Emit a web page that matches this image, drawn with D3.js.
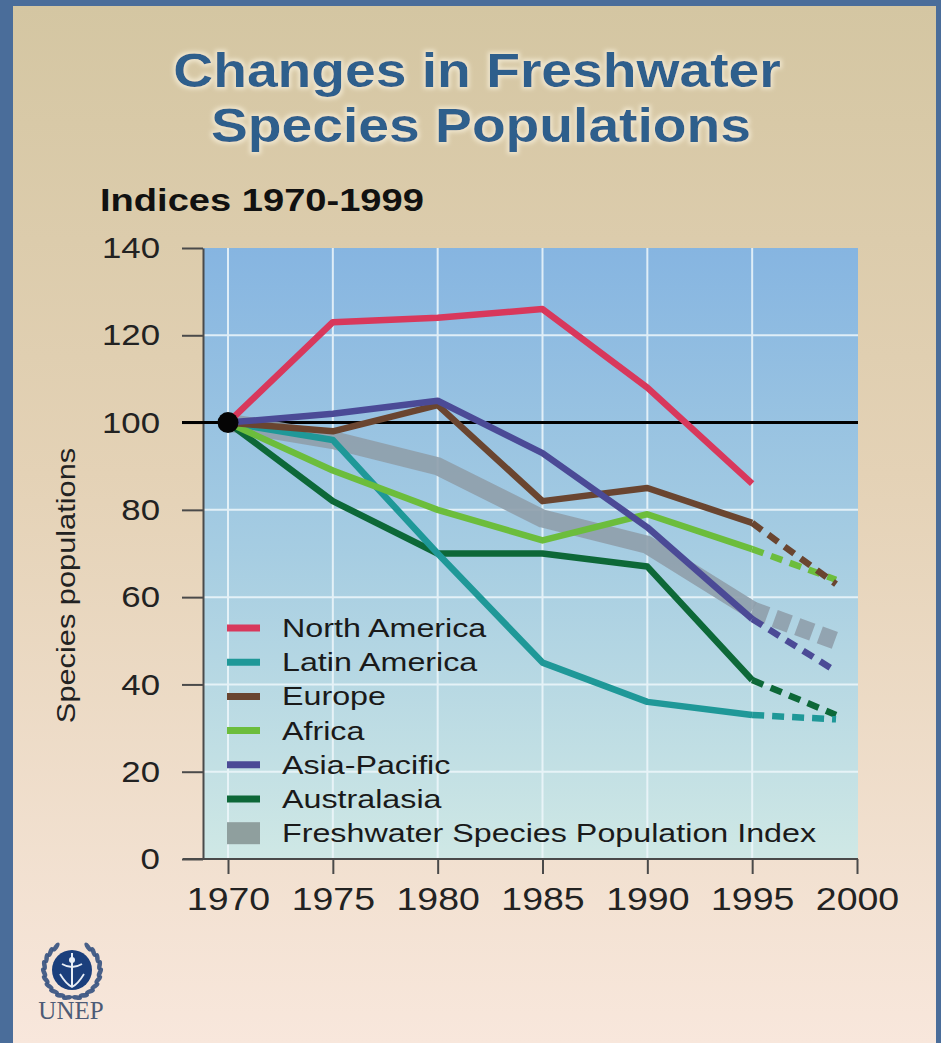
<!DOCTYPE html>
<html>
<head>
<meta charset="utf-8">
<script src="https://cdn.jsdelivr.net/npm/d3@7"></script>
<style>
  html, body { margin: 0; padding: 0; background: #4a6d9a; }
  svg { display: block; font-family: "Liberation Sans", Arial, sans-serif; }
</style>
</head>
<body>
<svg id="chart" width="941" height="1043"></svg>
<script>
// ---- data ----
const years = [1970, 1975, 1980, 1985, 1990, 1995];
const projectionYear = 1999;

const seriesNames = ["North America", "Latin America", "Europe", "Africa", "Asia-Pacific", "Australasia"];
const seriesColors = ["#d8385c", "#1f9898", "#6a4530", "#6cbd3c", "#4b4a96", "#0d6838"];

const northAmerica = [100, 123, 124, 126, 108, 86];
const latinAmerica = [100, 96, 70, 45, 36, 33];
const europe       = [100, 98, 104, 82, 85, 77];
const africa       = [100, 89, 80, 73, 79, 71];
const asiaPacific  = [100, 102, 105, 93, 76, 55];
const australasia  = [100, 82, 70, 70, 67, 41];

// projected 1999 values (null = no projection)
const projections = [null, 32, 63, 64, 43, 33];

const indexName = "Freshwater Species Population Index";
const indexValues = [100, 96, 90, 78, 72, 57];
const indexProjection = 50;

const yTicks = [0, 20, 40, 60, 80, 100, 120, 140];
const xTicks = [1970, 1975, 1980, 1985, 1990, 1995, 2000];

const titleLines = ["Changes in Freshwater", "Species Populations"];
const subtitle = "Indices 1970-1999";
const yTitle = "Species populations";

const seriesValues = [northAmerica, latinAmerica, europe, africa, asiaPacific, australasia];

// ---- setup ----
const svg = d3.select("#chart");
const W = 941, H = 1043;

const x = d3.scaleLinear().domain([1970, 2000]).range([228, 857]);
const y = d3.scaleLinear().domain([0, 140]).range([859, 248]);
const plotLeft = x(1970) - 25, plotRight = x(2000) + 1;

// stretch helper: widen text horizontally by factor sx
function stretch(sel, sx) {
  sel.each(function () {
    const w = this.getComputedTextLength();
    this.setAttribute("textLength", (w * sx).toFixed(1));
    this.setAttribute("lengthAdjust", "spacingAndGlyphs");
  });
}

const defs = svg.append("defs");
const panelGrad = defs.append("linearGradient").attr("id", "panelGrad")
  .attr("x1", 0).attr("y1", 0).attr("x2", 0).attr("y2", 1);
panelGrad.append("stop").attr("offset", "0").attr("stop-color", "#d4c6a2");
panelGrad.append("stop").attr("offset", "0.45").attr("stop-color", "#e4d2b6");
panelGrad.append("stop").attr("offset", "1").attr("stop-color", "#f8e7dc");

const plotGrad = defs.append("linearGradient").attr("id", "plotGrad")
  .attr("x1", 0).attr("y1", 0).attr("x2", 0).attr("y2", 1);
plotGrad.append("stop").attr("offset", "0").attr("stop-color", "#86b5e1");
plotGrad.append("stop").attr("offset", "0.5").attr("stop-color", "#a6cde2");
plotGrad.append("stop").attr("offset", "1").attr("stop-color", "#cfe8e5");

const glow = defs.append("filter").attr("id", "glow")
  .attr("x", "-10%").attr("y", "-30%").attr("width", "120%").attr("height", "160%");
glow.append("feMorphology").attr("in", "SourceAlpha").attr("operator", "dilate").attr("radius", 1.5).attr("result", "d");
glow.append("feGaussianBlur").attr("in", "d").attr("stdDeviation", 2).attr("result", "b");
glow.append("feFlood").attr("flood-color", "#f4ecd6").attr("flood-opacity", 0.85);
glow.append("feComposite").attr("in2", "b").attr("operator", "in").attr("result", "g");
const gm = glow.append("feMerge");
gm.append("feMergeNode").attr("in", "g");
gm.append("feMergeNode").attr("in", "SourceGraphic");

// ---- frame & panel ----
svg.append("rect").attr("width", W).attr("height", H).attr("fill", "#4a6d9a");
svg.append("rect").attr("x", 13).attr("y", 6).attr("width", W - 18).attr("height", H - 6)
  .attr("fill", "url(#panelGrad)");

// ---- titles ----
const title = svg.append("g").attr("filter", "url(#glow)");
title.selectAll("text").data(titleLines).join("text")
  .attr("x", (d, i) => i === 0 ? 477 : 481)
  .attr("y", (d, i) => i === 0 ? 87 : 142)
  .attr("text-anchor", "middle")
  .attr("font-size", 48).attr("font-weight", "bold")
  .attr("fill", "#2f5e8c")
  .text(d => d)
  .call(stretch, 1.15);

svg.append("text").attr("x", 100).attr("y", 211)
  .attr("font-size", 32).attr("font-weight", "bold").attr("fill", "#111")
  .text(subtitle).call(stretch, 1.19);

// ---- plot background & grid ----
svg.append("rect").attr("x", plotLeft).attr("y", y(140))
  .attr("width", plotRight - plotLeft).attr("height", y(0) - y(140))
  .attr("fill", "url(#plotGrad)");

const grid = svg.append("g").attr("stroke", "#eef7fb").attr("stroke-width", 2).attr("opacity", 0.85);
grid.selectAll("line.v").data(xTicks.slice(0, -1)).join("line")
  .attr("x1", d => x(d)).attr("x2", d => x(d)).attr("y1", y(140)).attr("y2", y(0));
grid.selectAll("line.h").data(yTicks.filter(v => v > 0 && v < 140)).join("line")
  .attr("x1", plotLeft).attr("x2", plotRight).attr("y1", d => y(d)).attr("y2", d => y(d));

// ---- axes ----
const axisColor = "#4a4a4a";
const yAxis = svg.append("g").attr("transform", `translate(${plotLeft},0)`)
  .call(d3.axisLeft(y).tickValues(yTicks).tickSize(21).tickSizeOuter(0).tickPadding(22));
yAxis.select(".domain").attr("stroke", axisColor).attr("stroke-width", 2);
yAxis.selectAll(".tick line").attr("stroke", axisColor).attr("stroke-width", 2);
yAxis.selectAll(".tick text").attr("font-size", 30).attr("fill", "#222")
  .attr("font-family", "Liberation Sans, Arial, sans-serif").call(stretch, 1.16);

const xAxis = svg.append("g").attr("transform", `translate(0,${y(0)})`)
  .call(d3.axisBottom(x).tickValues(xTicks).tickFormat(d3.format("d")).tickSize(15).tickPadding(13));
xAxis.select(".domain").remove();
xAxis.selectAll(".tick line").attr("stroke", axisColor).attr("stroke-width", 2);
xAxis.selectAll(".tick text").attr("font-size", 32).attr("fill", "#222")
  .attr("font-family", "Liberation Sans, Arial, sans-serif").call(stretch, 1.17);
svg.append("line").attr("x1", plotLeft - 20).attr("x2", plotRight)
  .attr("y1", y(0)).attr("y2", y(0)).attr("stroke", axisColor).attr("stroke-width", 2);

svg.append("text")
  .attr("transform", `translate(75,${(448 + 723) / 2}) rotate(-90)`)
  .attr("text-anchor", "middle").attr("font-size", 25).attr("fill", "#222")
  .text(yTitle).call(stretch, 1.23);

// ---- baseline at 100 ----
svg.append("line").attr("x1", plotLeft - 21).attr("x2", plotRight)
  .attr("y1", y(100)).attr("y2", y(100)).attr("stroke", "#000").attr("stroke-width", 3);

// ---- lines ----
const line = d3.line().x(d => x(d[0])).y(d => y(d[1]));
const lines = svg.append("g").attr("fill", "none").attr("stroke-linejoin", "round");

// population index: broad translucent band
lines.append("path")
  .attr("d", line(years.map((yr, i) => [yr, indexValues[i]])))
  .attr("stroke", "#8f9eab").attr("stroke-opacity", 0.9).attr("stroke-width", 18);
lines.append("path")
  .attr("d", line([[years[years.length - 1], indexValues[indexValues.length - 1]], [projectionYear, indexProjection]]))
  .attr("stroke", "#8f9eab").attr("stroke-opacity", 0.9).attr("stroke-width", 18)
  .attr("stroke-dasharray", "16,8");

const drawOrder = [5, 1, 3, 2, 4, 0];
drawOrder.forEach(k => {
  const vals = seriesValues[k];
  lines.append("path")
    .attr("d", line(years.map((yr, i) => [yr, vals[i]])))
    .attr("stroke", seriesColors[k]).attr("stroke-width", 6.5);
  if (projections[k] !== null) {
    lines.append("path")
      .attr("d", line([[years[years.length - 1], vals[vals.length - 1]], [projectionYear, projections[k]]]))
      .attr("stroke", seriesColors[k]).attr("stroke-width", 6.5)
      .attr("stroke-dasharray", "12,8");
  }
});

// common starting point
svg.append("circle").attr("cx", x(1970)).attr("cy", y(100)).attr("r", 10.5).attr("fill", "#050505");

// ---- legend ----
const legendItems = seriesNames.map((n, i) => ({ name: n, color: seriesColors[i], band: false }))
  .concat([{ name: indexName, color: "#8f9f9e", band: true }]);
const legend = svg.append("g");
const row = legend.selectAll("g").data(legendItems).join("g")
  .attr("transform", (d, i) => `translate(227,${628 + i * 34.2})`);
row.filter(d => !d.band).append("line")
  .attr("x1", 0).attr("x2", 33).attr("stroke", d => d.color).attr("stroke-width", 7);
row.filter(d => d.band).append("rect")
  .attr("x", 0).attr("y", -11).attr("width", 33).attr("height", 22).attr("fill", d => d.color);
row.append("text").attr("x", 55).attr("y", 9)
  .attr("font-size", 26).attr("fill", "#1a1a1a").text(d => d.name)
  .call(stretch, 1.24);

// ---- UNEP emblem: laurel wreath around a globe disc ----
const logo = svg.append("g").attr("transform", "translate(72,970)");
const leafColor = "#35517f";
const leafAngles = d3.range(100, 245, 15);   // degrees, left branch from bottom to top
[-1, 1].forEach(side => {
  leafAngles.forEach(a => {
    const phi = side === -1 ? a : 180 - a;
    const rad = phi * Math.PI / 180, r = 28;
    const lx = Math.cos(rad) * r, ly = Math.sin(rad) * r;
    logo.append("ellipse")
      .attr("cx", lx).attr("cy", ly).attr("rx", 2.3).attr("ry", 5.2)
      .attr("transform", `rotate(${phi + side * 20},${lx},${ly})`)
      .attr("fill", leafColor).attr("opacity", 0.9);
  });
});
logo.append("circle").attr("r", 20).attr("fill", "#1b3f7c");
logo.append("path")
  .attr("d", "M0,-17 L0,17")
  .attr("stroke", "#e8eef6").attr("stroke-width", 2).attr("fill", "none");
logo.append("path")
  .attr("d", "M-10,-6 Q0,0 10,-6 M-12,4 Q-6,14 0,17 Q6,14 12,4")
  .attr("stroke", "#e8eef6").attr("stroke-width", 1.8).attr("fill", "none");
logo.append("circle").attr("cx", 0).attr("cy", -10).attr("r", 3).attr("fill", "#e8eef6");
svg.append("text").attr("x", 71).attr("y", 1019).attr("text-anchor", "middle")
  .attr("font-family", "Liberation Serif, Times New Roman, serif")
  .attr("font-size", 25).attr("fill", "#4d5b76").text("UNEP")
  .call(stretch, 1.0);
</script>
</body>
</html>
